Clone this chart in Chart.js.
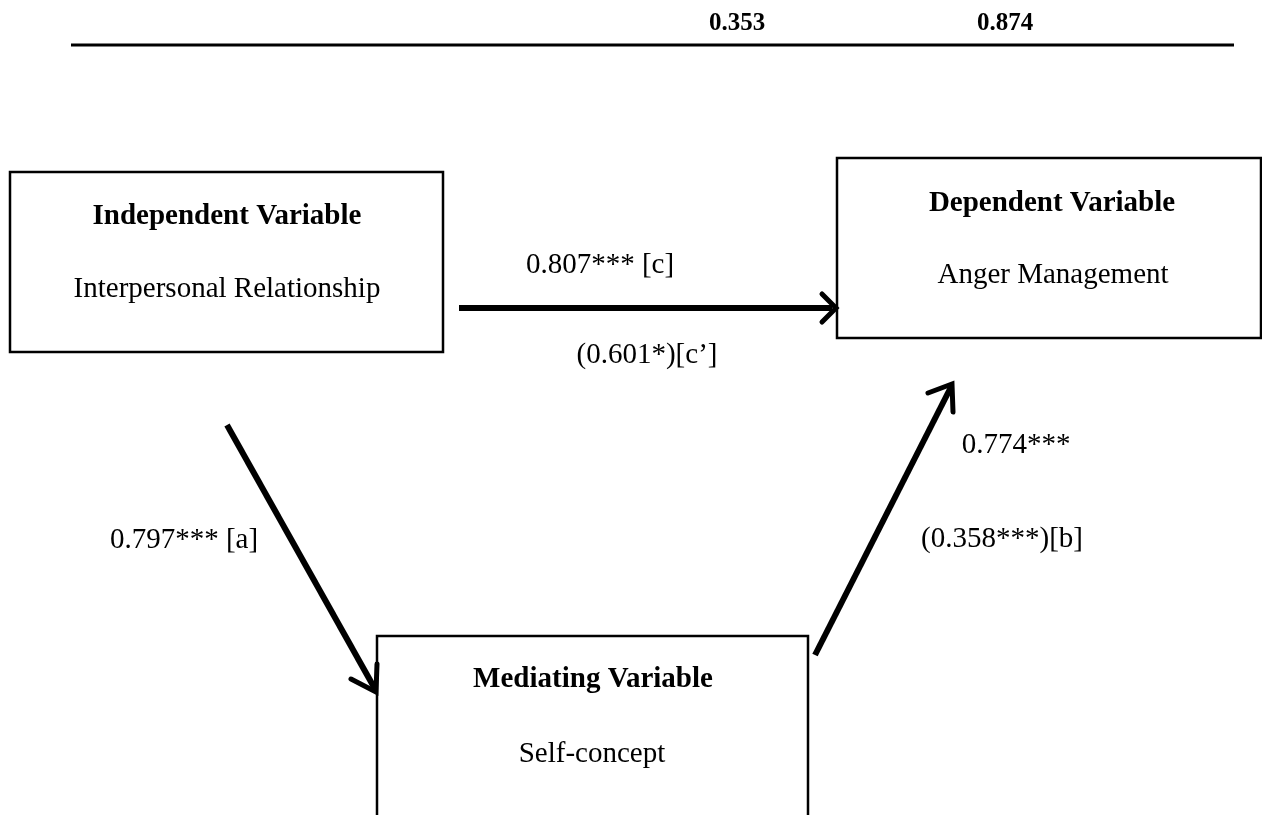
<!DOCTYPE html>
<html>
<head>
<meta charset="utf-8">
<title>Mediation model</title>
<script src="https://cdn.jsdelivr.net/npm/chart.js@4"></script>
<style>
  html, body { margin: 0; padding: 0; background: #fff; }
  #wrap { width: 1262px; height: 815px; }
</style>
</head>
<body>
<div id="wrap"><canvas id="diagram" width="1262" height="815"></canvas></div>
<script>
  // ── Data ──────────────────────────────────────────
  const headerValues = ['0.353', '0.874'];
  const nodeRoles = ['Independent Variable', 'Dependent Variable', 'Mediating Variable'];
  const nodeNames = ['Interpersonal Relationship', 'Anger Management', 'Self-concept'];
  const pathLabels = ['0.807*** [c]', '(0.601*)[c\u2019]', '0.797*** [a]', '0.774***', '(0.358***)[b]'];

  // ── Layout (pixel units of the hidden scales) ──────────────────
  const W = 1262, H = 815;
  const headerX = [737, 1005];
  const headerY = 30;
  const ruleX = [71, 1234];
  const ruleY = 45;
  // boxes: [left, top, right, bottom]
  const boxes = [
    [10, 172, 443, 352],
    [837, 158, 1261, 338],
    [377, 636, 808, 822]
  ];
  const roleXY = [[227, 224], [1052, 211], [593, 687]];
  const nameXY = [[227, 297], [1053, 283], [592, 762]];
  // arrows: shaft [x0,y0,x1,y1], head [bx1,by1, tx,ty, bx2,by2]
  const shafts = [
    [459, 308, 832, 308],
    [227, 425, 375, 689],
    [815, 655, 951, 387]
  ];
  const heads = [
    [822, 294, 836, 308, 822, 322],
    [351, 679, 376, 692, 377, 664],
    [928, 393, 952, 384, 953, 412]
  ];
  const labelXY = [[600, 273], [647, 363], [184, 548], [1016, 453], [1002, 547]];

  const INK = '#000';
  const SERIF = '"Liberation Serif", "Times New Roman", serif';

  const datasets = [];
  datasets.push({ data: [{x: ruleX[0], y: ruleY}, {x: ruleX[1], y: ruleY}], borderColor: INK, borderWidth: 3 });
  for (const b of boxes) {
    // run past the first corner again so every corner gets a proper join
    datasets.push({
      data: [{x: b[0], y: b[1]}, {x: b[2], y: b[1]}, {x: b[2], y: b[3]}, {x: b[0], y: b[3]}, {x: b[0], y: b[1]}, {x: b[2], y: b[1]}],
      borderColor: INK, borderWidth: 2.5, borderJoinStyle: 'miter'
    });
  }
  for (const s of shafts) {
    datasets.push({ data: [{x: s[0], y: s[1]}, {x: s[2], y: s[3]}], borderColor: INK, borderWidth: 6, borderCapStyle: 'butt' });
  }
  for (const h of heads) {
    datasets.push({
      data: [{x: h[0], y: h[1]}, {x: h[2], y: h[3]}, {x: h[4], y: h[5]}],
      borderColor: INK, borderWidth: 5, borderJoinStyle: 'miter', borderCapStyle: 'round'
    });
  }
  datasets.forEach(d => { d.showLine = true; d.fill = false; d.pointRadius = 0; d.tension = 0; d.clip = false; });

  // ── Text plugin ──────────────────────────────────────────
  const textPlugin = {
    id: 'diagramText',
    afterDatasetsDraw(chart) {
      const { ctx, scales: { x, y } } = chart;
      const put = (txt, px, py, font) => {
        ctx.font = font;
        ctx.fillText(txt, x.getPixelForValue(px), y.getPixelForValue(py));
      };
      ctx.save();
      ctx.fillStyle = INK;
      ctx.textAlign = 'center';
      ctx.textBaseline = 'alphabetic';
      headerValues.forEach((t, i) => put(t, headerX[i], headerY, 'bold 25px ' + SERIF));
      nodeRoles.forEach((t, i) => put(t, roleXY[i][0], roleXY[i][1], 'bold 29px ' + SERIF));
      nodeNames.forEach((t, i) => put(t, nameXY[i][0], nameXY[i][1], '29px ' + SERIF));
      pathLabels.forEach((t, i) => put(t, labelXY[i][0], labelXY[i][1], '29px ' + SERIF));
      ctx.restore();
    }
  };

  new Chart(document.getElementById('diagram').getContext('2d'), {
    type: 'scatter',
    data: { datasets },
    options: {
      responsive: false, animation: false,
      layout: { padding: 0 },
      plugins: { legend: { display: false }, tooltip: { enabled: false } },
      scales: {
        x: { type: 'linear', min: 0, max: W, display: false },
        y: { type: 'linear', min: 0, max: H, reverse: true, display: false }
      }
    },
    plugins: [textPlugin]
  });
</script>
</body>
</html>
